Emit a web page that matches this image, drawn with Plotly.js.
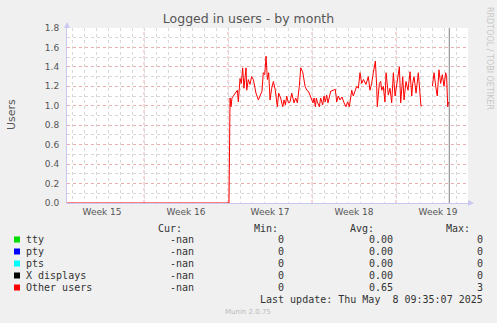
<!DOCTYPE html>
<html>
<head>
<meta charset="utf-8">
<script src="https://cdn.plot.ly/plotly-3.0.1.min.js"></script>
<style>
  html, body { margin: 0; padding: 0; background: #F0F0F0; }
  #chart { width: 497px; height: 323px; }
</style>
</head>
<body>
<div id="chart"></div>
<script>
// ---- Data (x = days since Monday 7 April 2025, start of ISO week 15) ----
var weekLabels = ["Week 15", "Week 16", "Week 17", "Week 18", "Week 19"];
var weekStarts = [0, 7, 14, 21, 28];
var weekMids = [3.5, 10.5, 17.5, 24.5, 31.5];

var otherDays = [
  0.58, 14.08, 14.17, 14.25, 14.33, 14.44, 14.58, 14.78, 14.86, 15.0, 15.11, 15.22, 15.33, 15.5, 15.56,
  15.69, 15.83, 15.97, 16.11, 16.33, 16.53, 16.72, 16.83, 16.94, 17.06, 17.17, 17.28, 17.39, 17.5,
  17.64, 17.78, 17.94, 18.11, 18.22, 18.39, 18.56, 18.67, 18.78, 18.89, 19.03, 19.17, 19.31, 19.5,
  19.64, 19.78, 19.94, 20.06, 20.22, 20.42, 20.56, 20.69, 20.83, 20.97, 21.08, 21.17, 21.28, 21.36,
  21.44, 21.61, 21.72, 21.89, 22.0, 22.11, 22.22, 22.33, 22.44, 22.56, 22.78, 22.94, 23.06, 23.19,
  23.33, 23.5, 23.67, 23.83, 23.97, 24.11, 24.31, 24.44, 24.58, 24.72, 24.86, 25.0, 25.14, 25.28,
  25.5, 25.69, 25.83, 25.97, 26.11, 26.28, 26.39, 26.44, 26.61, 26.72, 26.81, 26.94, 27.08, 27.17,
  27.36, 27.5, 27.64, 27.78, 27.92, 28.06, 28.28, 28.39, 28.56, 28.67, 28.83, 29.0, 29.17, 29.31,
  29.39, 29.5, 29.67, 29.86, 29.94, 30.08, 30.17, 30.5, 31.03, 31.17, 31.31, 31.44, 31.58, 31.72,
  31.86, 32.0, 32.14, 32.22, 32.31, 32.39
];
var otherUsers = [
  0, 0, 1.08, 0.99, 1.08, 1.10, 1.13, 1.16, 1.04, 1.28, 1.23, 1.39, 1.18, 1.39, 1.16,
  1.27, 1.22, 1.30, 1.27, 1.13, 1.06, 1.11, 1.15, 1.34, 1.32, 1.51, 1.27, 1.34, 1.06,
  1.18, 1.25, 1.16, 0.99, 1.13, 1.08, 0.99, 1.06, 1.01, 1.10, 1.03, 1.04, 1.13, 1.03,
  1.08, 1.03, 1.20, 1.39, 1.35, 1.20, 1.16, 1.15, 1.11, 1.06, 1.03, 1.08, 0.99, 1.08,
  1.04, 0.99, 1.08, 1.01, 1.10, 1.04, 1.11, 1.03, 1.10, 1.15, 1.16, 1.17, 1.04, 1.10,
  1.06, 1.09, 1.03, 0.99, 1.04, 0.99, 1.16, 1.10, 1.15, 1.20, 1.18, 1.34, 1.23, 1.27,
  1.22, 1.30, 1.16, 1.23, 1.34, 1.46, 1.20, 0.99, 1.23, 1.25, 1.16, 1.20, 1.04, 1.34,
  1.11, 1.18, 1.03, 1.34, 1.10, 1.23, 1.40, 1.03, 1.30, 1.06, 1.25, 1.16, 1.35, 1.10,
  1.23, 1.30, 1.13, 1.34, 1.22, 1.00, 1.00, null, 1.20, 1.34, 1.20, 1.10, 1.37, 1.23,
  1.32, 1.20, 1.34, 1.30, 0.99, 1.04
];
var lastUpdateDay = 32.44;

var seriesNames = ["tty", "pty", "pts", "X displays", "Other users"];
var seriesColors = ["#00DD00", "#0000FF", "#00FFFF", "#000000", "#FF0000"];
var curVals = ["-nan", "-nan", "-nan", "-nan", "-nan"];
var minVals = ["0", "0", "0", "0", "0"];
var avgVals = ["0.00", "0.00", "0.00", "0.00", "0.65"];
var maxVals = ["0", "0", "0", "0", "3"];
var lastUpdate = "Last update: Thu May  8 09:35:07 2025";
var chartTitle = "Logged in users - by month";
var yTitle = "Users";

// ---- Layout geometry ----
var W = 497, H = 323;
var PL = 67, PR = 468, PT = 28, PB = 203;
function px(x) { return (x - PL) / (PR - PL); }
function py(y) { return (PB - y) / (PB - PT); }

var mono = { family: "DejaVu Sans Mono", size: 10, color: "#333333" };

var annotations = [];
var shapes = [];

// column headers
var headers = [["Cur:", 182], ["Min:", 278], ["Avg:", 374], ["Max:", 470]];
headers.forEach(function (h) {
  annotations.push({ xref: "paper", yref: "paper", x: px(h[1] + 1), y: py(228), xanchor: "right", yanchor: "middle",
    text: h[0], showarrow: false, font: mono, borderpad: 0 });
});
var rowY = [239.5, 251.5, 263.5, 275.5, 287.5];
seriesNames.forEach(function (name, i) {
  var y = py(rowY[i]);
  annotations.push({ xref: "paper", yref: "paper", x: px(25), y: y, xanchor: "left", yanchor: "middle",
    text: name.replace(/ /g, "&nbsp;"), showarrow: false, font: mono, borderpad: 0 });
  [[curVals[i], 194], [minVals[i], 284], [avgVals[i], 393], [maxVals[i], 483]].forEach(function (c) {
    annotations.push({ xref: "paper", yref: "paper", x: px(c[1] + 1), y: y, xanchor: "right", yanchor: "middle",
      text: c[0], showarrow: false, font: mono, borderpad: 0 });
  });
  shapes.push({ type: "rect", xref: "paper", yref: "paper", x0: px(14), x1: px(20), y0: py(rowY[i] - 3), y1: py(rowY[i] + 3),
    fillcolor: seriesColors[i], line: { width: 0 }, layer: "above" });
});
annotations.push({ xref: "paper", yref: "paper", x: px(484), y: py(299.5), xanchor: "right", yanchor: "middle",
  text: lastUpdate.replace(/ /g, "&nbsp;"), showarrow: false, font: mono, borderpad: 0 });
annotations.push({ xref: "paper", yref: "paper", x: px(248), y: py(312), xanchor: "center", yanchor: "middle",
  text: "Munin 2.0.75", showarrow: false, font: { family: "DejaVu Sans", size: 7, color: "#BBBBBB" }, borderpad: 0 });
annotations.push({ xref: "paper", yref: "paper", x: px(489), y: py(58), xanchor: "center", yanchor: "middle",
  text: "RRDTOOL / TOBI OETIKER", textangle: 90, showarrow: false, font: { family: "DejaVu Sans", size: 8, color: "#C8C8C8" }, borderpad: 0 });
annotations.push({ xref: "paper", yref: "paper", x: px(11), y: py(115), xanchor: "center", yanchor: "middle",
  text: yTitle, textangle: -90, showarrow: false, font: { family: "DejaVu Sans", size: 11, color: "#555555" }, borderpad: 0 });

// weekly (major) vertical grid lines
weekStarts.forEach(function (d) {
  shapes.push({ type: "line", xref: "x", yref: "paper", x0: d, x1: d, y0: 0, y1: 1,
    line: { color: "#EAB0B0", width: 1, dash: "dot" }, layer: "below" });
});
// last update marker
shapes.push({ type: "line", xref: "x", yref: "paper", x0: lastUpdateDay, x1: lastUpdateDay, y0: 0, y1: 1,
  line: { color: "#808080", width: 1 }, layer: "above" });
// axis arrows
shapes.push({ type: "path", xref: "paper", yref: "paper",
  path: "M " + px(64) + " " + py(28) + " L " + px(70) + " " + py(28) + " L " + px(67) + " " + py(22) + " Z",
  fillcolor: "#C8C8F0", line: { width: 0 } });
shapes.push({ type: "path", xref: "paper", yref: "paper",
  path: "M " + px(468) + " " + py(200) + " L " + px(468) + " " + py(206) + " L " + px(474) + " " + py(203) + " Z",
  fillcolor: "#C8C8F0", line: { width: 0 } });

var traces = [{
  x: otherDays, y: otherUsers, type: "scatter", mode: "lines", name: "Other users",
  line: { color: "#FF0000", width: 1 }, connectgaps: false, hoverinfo: "x+y"
}];

var layout = {
  width: W, height: H,
  paper_bgcolor: "#F0F0F0", plot_bgcolor: "#FFFFFF",
  margin: { l: PL, r: W - PR, t: PT, b: H - PB, pad: 0 },
  showlegend: false,
  title: { text: chartTitle, x: 0.5, xref: "container", xanchor: "center", y: 1 - 19 / H, yanchor: "middle",
    font: { family: "DejaVu Sans", size: 12.5, color: "#555555" } },
  xaxis: {
    range: [0.58, 34.0], fixedrange: true,
    tickmode: "array", tickvals: weekMids, ticktext: weekLabels,
    tickfont: { family: "DejaVu Sans", size: 9, color: "#555555" },
    ticks: "", showgrid: false, zeroline: false,
    showline: true, linecolor: "#C8C8F0", linewidth: 1,
    minor: { tickmode: "linear", tick0: 0, dtick: 1, showgrid: true, gridcolor: "#D8D8D8", griddash: "dot", gridwidth: 1, ticks: "" }
  },
  yaxis: {
    range: [0, 1.8], fixedrange: true,
    tickmode: "linear", tick0: 0, dtick: 0.2, tickformat: ".1f",
    tickfont: { family: "DejaVu Sans", size: 9, color: "#555555" },
    ticks: "", ticklabelstandoff: 5,
    showgrid: true, gridcolor: "#EAB0B0", griddash: "dot", gridwidth: 1, zeroline: false,
    showline: true, linecolor: "#C8C8F0", linewidth: 1,
    minor: { tickmode: "linear", tick0: 0, dtick: 0.1, showgrid: true, gridcolor: "#D8D8D8", griddash: "dot", gridwidth: 1, ticks: "" }
  },
  annotations: annotations,
  shapes: shapes
};

Plotly.newPlot("chart", traces, layout, { displayModeBar: false, staticPlot: true });
</script>
</body>
</html>
